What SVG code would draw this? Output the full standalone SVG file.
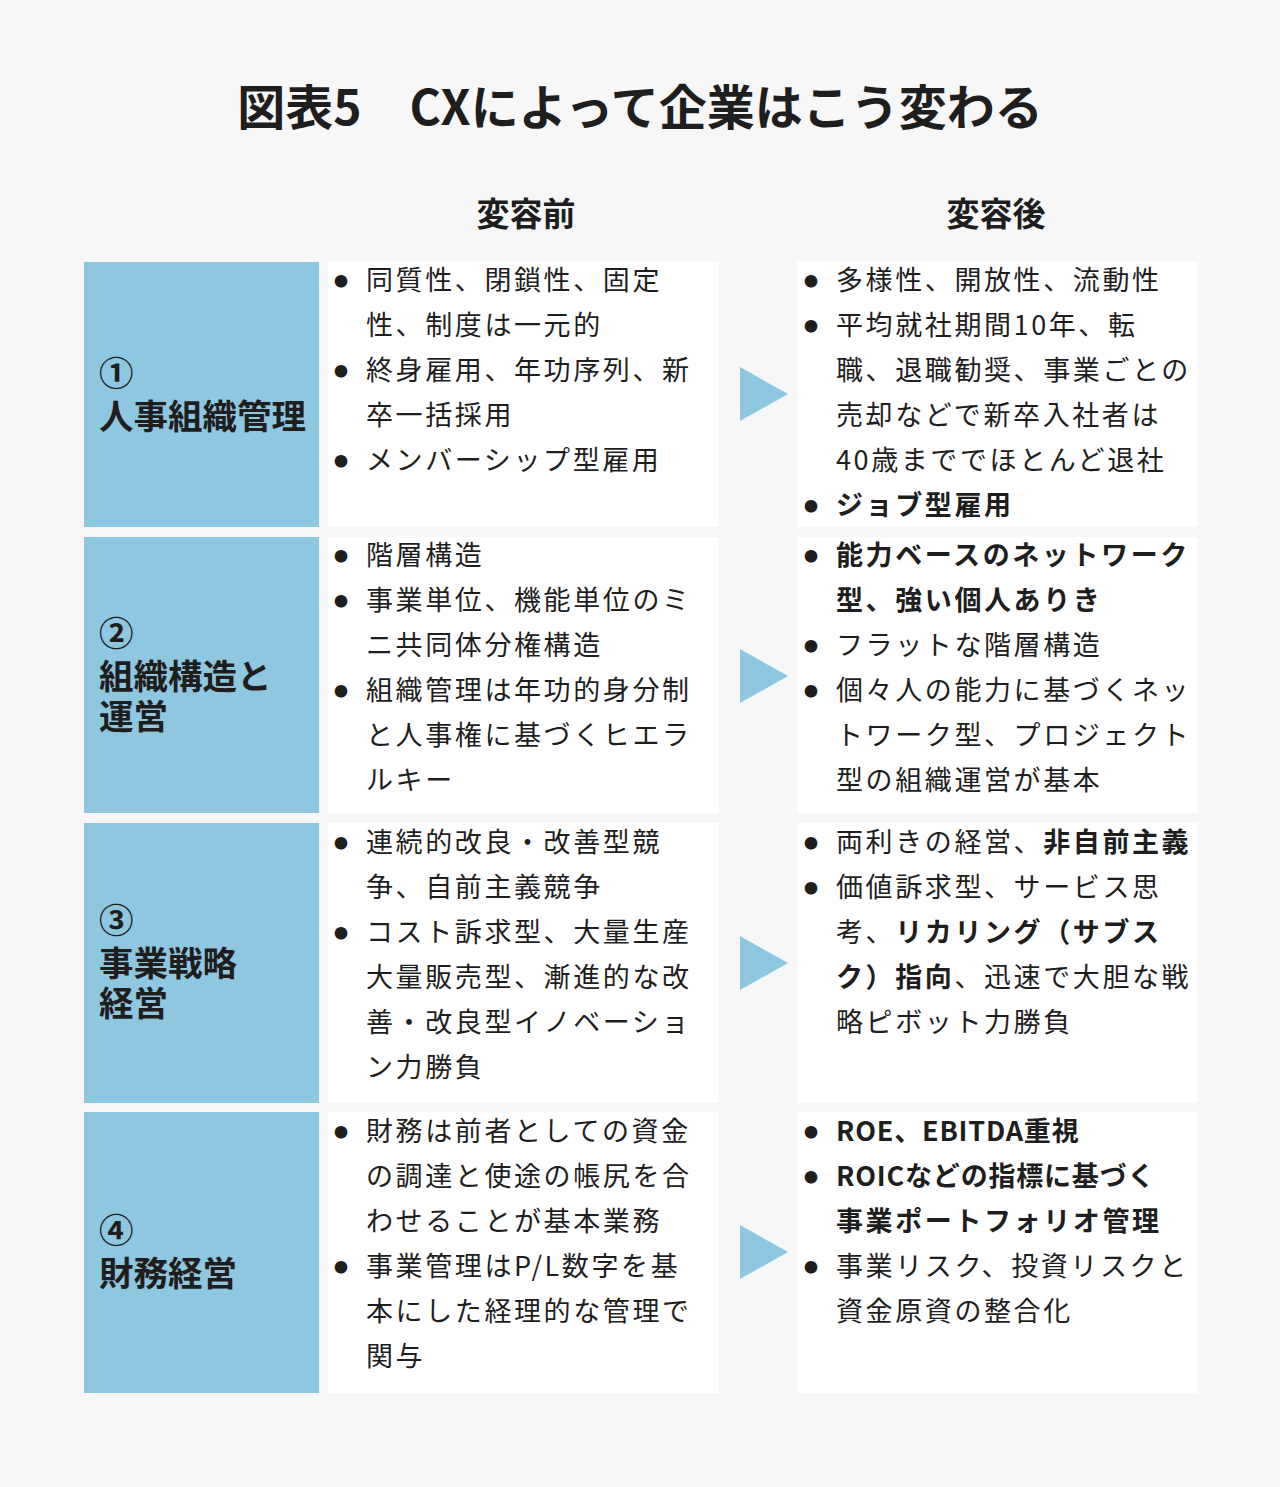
<svg xmlns="http://www.w3.org/2000/svg" width="1280" height="1487" viewBox="0 0 1280 1487">
<style>
text{font-family:"Noto Sans CJK JP","Noto Sans",sans-serif;fill:#1e1e1e}
.t{font-size:27px;letter-spacing:2.6px}
.bu{font-size:14px}
.b{font-weight:bold}
.lab{font-size:34.5px;font-weight:bold}
.hd{font-size:33px;font-weight:bold}
.blue{fill:#8fc6e0}
.wh{fill:#ffffff}
.arr{fill:#8fc6e0}
</style>
<rect width="1280" height="1487" fill="#f7f7f7"/>
<text x="640" y="125" text-anchor="middle" style="font-size:48px;font-weight:bold">図表5　CXによって企業はこう変わる</text>
<text class="hd" x="526" y="226" text-anchor="middle">変容前</text>
<text class="hd" x="996" y="226" text-anchor="middle">変容後</text>

<g id="row1">
<rect class="blue" x="84" y="262" width="235" height="265"/>
<rect class="wh" x="328" y="262" width="391" height="265"/>
<rect class="wh" x="797" y="262" width="401" height="265"/>
<text class="lab" x="99" y="386">①</text>
<text class="lab" x="99" y="429">人事組織管理</text>
<g>
<text class="bu" x="334" y="286">●</text><text class="t" x="366" y="290">同質性、閉鎖性、固定</text>
<text class="t" x="366" y="335">性、制度は一元的</text>
<text class="bu" x="334" y="376">●</text><text class="t" x="366" y="380">終身雇用、年功序列、新</text>
<text class="t" x="366" y="425">卒一括採用</text>
<text class="bu" x="334" y="466">●</text><text class="t" x="366" y="470">メンバーシップ型雇用</text>
</g>
<g>
<text class="bu" x="804" y="286">●</text><text class="t" x="836" y="290">多様性、開放性、流動性</text>
<text class="bu" x="804" y="331">●</text><text class="t" x="836" y="335">平均就社期間10年、転</text>
<text class="t" x="836" y="380">職、退職勧奨、事業ごとの</text>
<text class="t" x="836" y="425">売却などで新卒入社者は</text>
<text class="t" x="836" y="470">40歳まででほとんど退社</text>
<text class="bu" x="804" y="511">●</text><text class="t b" x="836" y="515">ジョブ型雇用</text>
</g>
</g>

<g id="row2">
<rect class="blue" x="84" y="537" width="235" height="276"/>
<rect class="wh" x="328" y="537" width="391" height="276"/>
<rect class="wh" x="797" y="537" width="401" height="276"/>
<text class="lab" x="99" y="646">②</text>
<text class="lab" x="99" y="689">組織構造と</text>
<text class="lab" x="99" y="729">運営</text>
<g>
<text class="bu" x="334" y="561">●</text><text class="t" x="366" y="565">階層構造</text>
<text class="bu" x="334" y="606">●</text><text class="t" x="366" y="610">事業単位、機能単位のミ</text>
<text class="t" x="366" y="655">ニ共同体分権構造</text>
<text class="bu" x="334" y="696">●</text><text class="t" x="366" y="700">組織管理は年功的身分制</text>
<text class="t" x="366" y="745">と人事権に基づくヒエラ</text>
<text class="t" x="366" y="790">ルキー</text>
</g>
<g>
<text class="bu" x="804" y="561">●</text><text class="t b" x="836" y="565">能力ベースのネットワーク</text>
<text class="t b" x="836" y="610">型、強い個人ありき</text>
<text class="bu" x="804" y="651">●</text><text class="t" x="836" y="655">フラットな階層構造</text>
<text class="bu" x="804" y="696">●</text><text class="t" x="836" y="700">個々人の能力に基づくネッ</text>
<text class="t" x="836" y="745">トワーク型、プロジェクト</text>
<text class="t" x="836" y="790">型の組織運営が基本</text>
</g>
</g>

<g id="row3">
<rect class="blue" x="84" y="823" width="235" height="280"/>
<rect class="wh" x="328" y="823" width="391" height="280"/>
<rect class="wh" x="797" y="823" width="401" height="280"/>
<text class="lab" x="99" y="933">③</text>
<text class="lab" x="99" y="976">事業戦略</text>
<text class="lab" x="99" y="1016">経営</text>
<g>
<text class="bu" x="334" y="848">●</text><text class="t" x="366" y="852">連続的改良・改善型競</text>
<text class="t" x="366" y="897">争、自前主義競争</text>
<text class="bu" x="334" y="938">●</text><text class="t" x="366" y="942">コスト訴求型、大量生産</text>
<text class="t" x="366" y="987">大量販売型、漸進的な改</text>
<text class="t" x="366" y="1032">善・改良型イノベーショ</text>
<text class="t" x="366" y="1077">ン力勝負</text>
</g>
<g>
<text class="bu" x="804" y="848">●</text><text class="t" x="836" y="852">両利きの経営、<tspan class="b">非自前主義</tspan></text>
<text class="bu" x="804" y="893">●</text><text class="t" x="836" y="897">価値訴求型、サービス思</text>
<text class="t" x="836" y="942">考、<tspan class="b">リカリング（サブス</tspan></text>
<text class="t" x="836" y="987"><tspan class="b">ク）指向</tspan>、迅速で大胆な戦</text>
<text class="t" x="836" y="1032">略ピボット力勝負</text>
</g>
</g>

<g id="row4">
<rect class="blue" x="84" y="1112" width="235" height="281"/>
<rect class="wh" x="328" y="1112" width="391" height="281"/>
<rect class="wh" x="797" y="1112" width="401" height="281"/>
<text class="lab" x="99" y="1243">④</text>
<text class="lab" x="99" y="1286">財務経営</text>
<g>
<text class="bu" x="334" y="1137">●</text><text class="t" x="366" y="1141">財務は前者としての資金</text>
<text class="t" x="366" y="1186">の調達と使途の帳尻を合</text>
<text class="t" x="366" y="1231">わせることが基本業務</text>
<text class="bu" x="334" y="1272">●</text><text class="t" x="366" y="1276">事業管理はP/L数字を基</text>
<text class="t" x="366" y="1321">本にした経理的な管理で</text>
<text class="t" x="366" y="1366">関与</text>
</g>
<g>
<text class="bu" x="804" y="1137">●</text><text class="t b" x="836" y="1141" style="letter-spacing:0.8px">ROE、EBITDA重視</text>
<text class="bu" x="804" y="1182">●</text><text class="t b" x="836" y="1186" style="letter-spacing:0.8px">ROICなどの指標に基づく</text>
<text class="t b" x="836" y="1231">事業ポートフォリオ管理</text>
<text class="bu" x="804" y="1272">●</text><text class="t" x="836" y="1276">事業リスク、投資リスクと</text>
<text class="t" x="836" y="1321">資金原資の整合化</text>
</g>
</g>

<g id="connectors">
<polygon class="arr" points="740,367 788,394 740,421"/>
<polygon class="arr" points="740,649 788,676 740,703"/>
<polygon class="arr" points="740,936 788,963 740,990"/>
<polygon class="arr" points="740,1225 788,1252 740,1279"/>
</g>
</svg>
